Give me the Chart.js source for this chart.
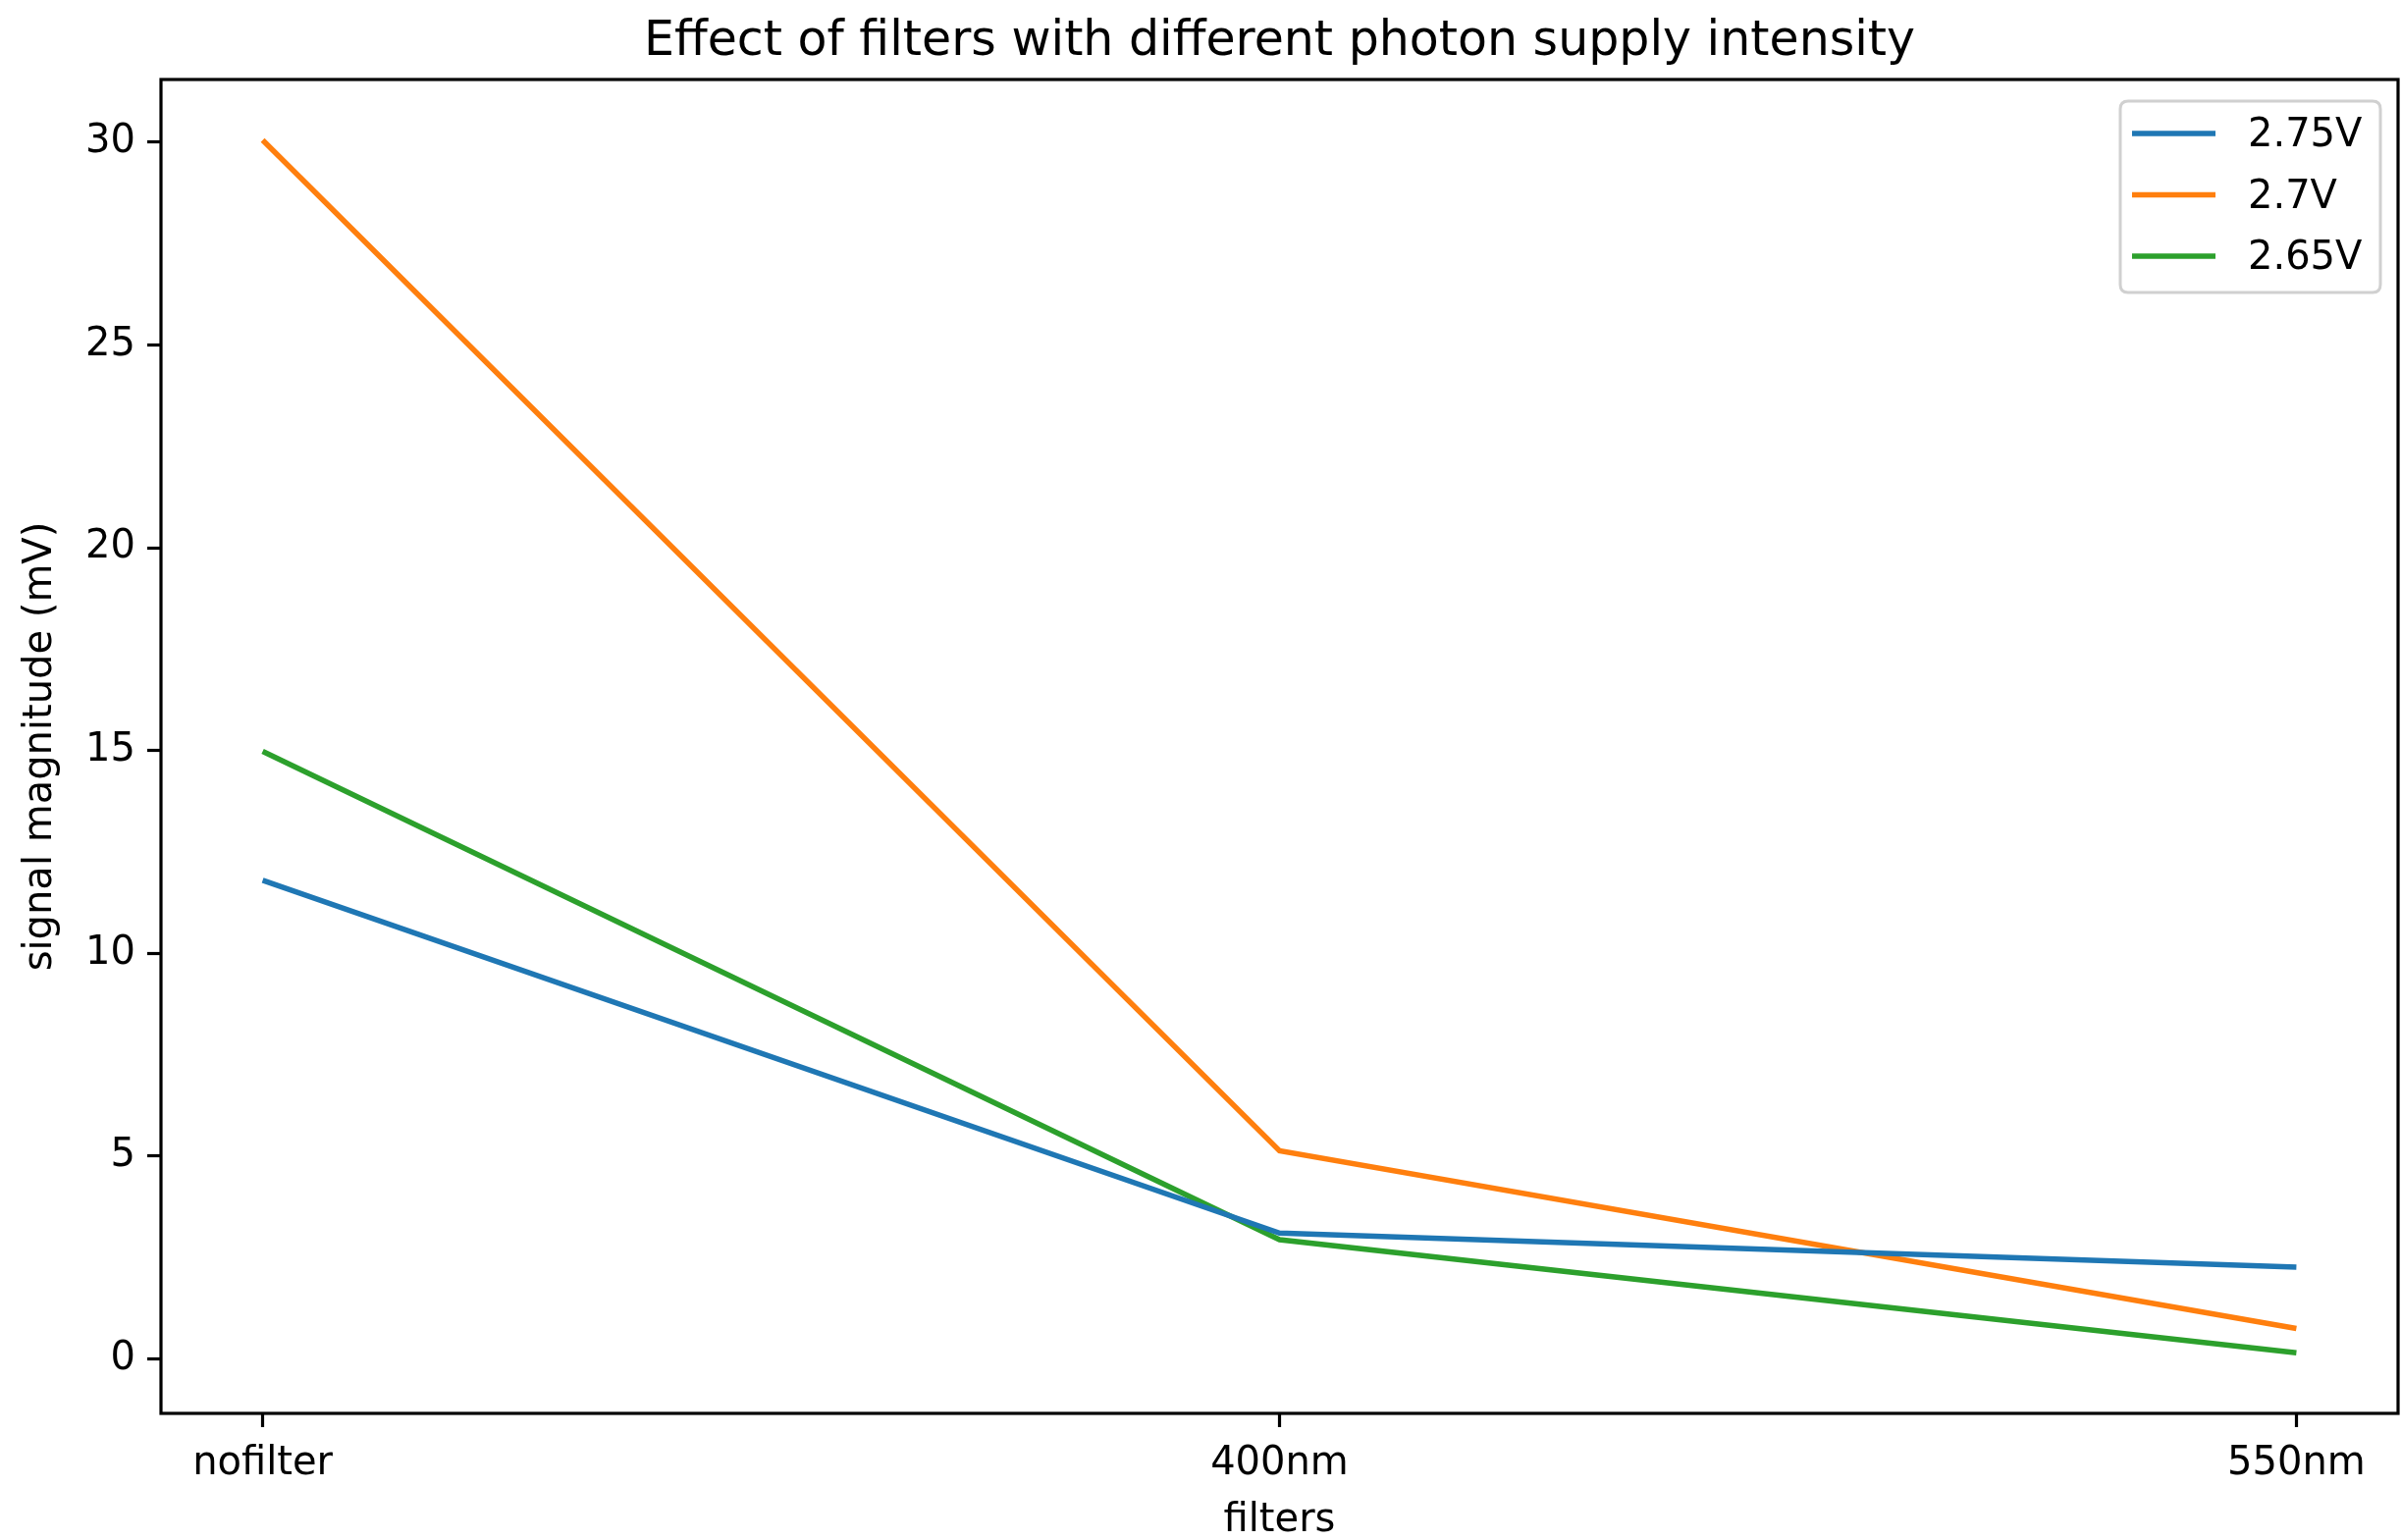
<!DOCTYPE html>
<html>
<head>
<meta charset="utf-8">
<script src="https://cdn.jsdelivr.net/npm/chart.js@4.4.1/dist/chart.umd.min.js"></script>
<style>
  html, body { margin: 0; padding: 0; background: #ffffff; }
  canvas { display: block; }
</style>
</head>
<body>
<canvas id="chart" width="2446" height="1569"></canvas>
<script>
// Filters on the x axis, signal magnitude (mV) per supply voltage
const categories = ['nofilter', '400nm', '550nm'];
const seriesNames = ['2.75V', '2.7V', '2.65V'];
const values275 = [11.8, 3.1, 2.26];
const values270 = [30.05, 5.13, 0.75];
const values265 = [14.98, 2.94, 0.15];
const yTickValues = [0, 5, 10, 15, 20, 25, 30];

const seriesValues = [values275, values270, values265];
const seriesColors = ['#1f77b4', '#ff7f0e', '#2ca02c'];

const FONT = "'DejaVu Sans', 'Liberation Sans', sans-serif";

// Axis limits with a 5% margin on each side of the data
const allVals = seriesValues.flat();
const yLo = Math.min(...allVals), yHi = Math.max(...allVals);
const yPad = (yHi - yLo) * 0.05;
const xPad = (categories.length - 1) * 0.05;

const datasets = seriesValues.map((vals, s) => ({
  label: seriesNames[s],
  data: vals.map((v, i) => ({ x: i, y: v })),
  borderColor: seriesColors[s],
  backgroundColor: seriesColors[s],
  borderWidth: 5.5,
  pointRadius: 0,
  pointHoverRadius: 0,
  tension: 0,
  fill: false,
  borderCapStyle: 'butt'
}));

// Frame around the plot area and a boxed legend in the upper right corner
const framePlugin = {
  id: 'frameAndLegend',
  afterDatasetsDraw(chart) {
    const { ctx, chartArea: a } = chart;
    ctx.save();
    ctx.strokeStyle = '#000000';
    ctx.lineWidth = 3.2;
    ctx.strokeRect(a.left, a.top, a.right - a.left, a.bottom - a.top);

    // legend box
    const bw = 265, bh = 195;
    const bx = a.right - 18 - bw, by = a.top + 22;
    const r = 8;
    ctx.beginPath();
    ctx.moveTo(bx + r, by);
    ctx.lineTo(bx + bw - r, by);
    ctx.quadraticCurveTo(bx + bw, by, bx + bw, by + r);
    ctx.lineTo(bx + bw, by + bh - r);
    ctx.quadraticCurveTo(bx + bw, by + bh, bx + bw - r, by + bh);
    ctx.lineTo(bx + r, by + bh);
    ctx.quadraticCurveTo(bx, by + bh, bx, by + bh - r);
    ctx.lineTo(bx, by + r);
    ctx.quadraticCurveTo(bx, by, bx + r, by);
    ctx.closePath();
    ctx.fillStyle = 'rgba(255,255,255,0.8)';
    ctx.fill();
    ctx.strokeStyle = '#d0d0d0';
    ctx.lineWidth = 3;
    ctx.stroke();

    ctx.font = '40px ' + FONT;
    ctx.textBaseline = 'middle';
    ctx.textAlign = 'left';
    chart.data.datasets.forEach((ds, i) => {
      const y = by + 33 + i * 62.5;
      ctx.beginPath();
      ctx.moveTo(bx + 12, y);
      ctx.lineTo(bx + 97, y);
      ctx.strokeStyle = ds.borderColor;
      ctx.lineWidth = 5.5;
      ctx.stroke();
      ctx.fillStyle = '#000000';
      ctx.fillText(ds.label, bx + 130, y + 3);
    });
    ctx.restore();
  }
};

new Chart(document.getElementById('chart'), {
  type: 'line',
  data: { datasets },
  plugins: [framePlugin],
  options: {
    responsive: false,
    animation: false,
    events: [],
    layout: { padding: { left: 0, right: 3, top: 0, bottom: 0 } },
    plugins: {
      legend: { display: false },
      tooltip: { enabled: false },
      title: {
        display: true,
        fullSize: false,
        text: 'Effect of filters with different photon supply intensity',
        color: '#000000',
        font: { family: FONT, size: 49, weight: 'normal', lineHeight: 1.2 },
        padding: { top: 14, bottom: 8.2 }
      }
    },
    scales: {
      x: {
        type: 'linear',
        min: -xPad,
        max: categories.length - 1 + xPad,
        afterBuildTicks(scale) {
          scale.ticks = categories.map((c, i) => ({ value: i }));
        },
        afterFit(scale) { scale.height = 129; },
        ticks: {
          color: '#000000',
          font: { family: FONT, size: 40 },
          padding: 14,
          maxRotation: 0,
          autoSkip: false,
          callback: (v) => categories[v]
        },
        grid: {
          display: true,
          drawOnChartArea: false,
          drawTicks: true,
          tickLength: 14,
          tickWidth: 3.2,
          tickColor: '#000000'
        },
        border: { display: false },
        title: {
          display: true,
          text: 'filters',
          color: '#000000',
          font: { family: FONT, size: 40, lineHeight: 0.95 },
          padding: { top: 0, bottom: 0 }
        }
      },
      y: {
        type: 'linear',
        min: yLo - yPad,
        max: yHi + yPad,
        afterBuildTicks(scale) {
          scale.ticks = yTickValues.map(v => ({ value: v }));
        },
        afterFit(scale) { scale.width = 164; },
        ticks: {
          color: '#000000',
          font: { family: FONT, size: 40 },
          padding: 12,
          autoSkip: false,
          callback: (v) => String(v)
        },
        grid: {
          display: true,
          drawOnChartArea: false,
          drawTicks: true,
          tickLength: 14,
          tickWidth: 3.2,
          tickColor: '#000000'
        },
        border: { display: false },
        title: {
          display: true,
          text: 'signal magnitude (mV)',
          color: '#000000',
          font: { family: FONT, size: 40, lineHeight: 1.2 },
          padding: { top: 18, bottom: 0 }
        }
      }
    }
  }
});
</script>
</body>
</html>
